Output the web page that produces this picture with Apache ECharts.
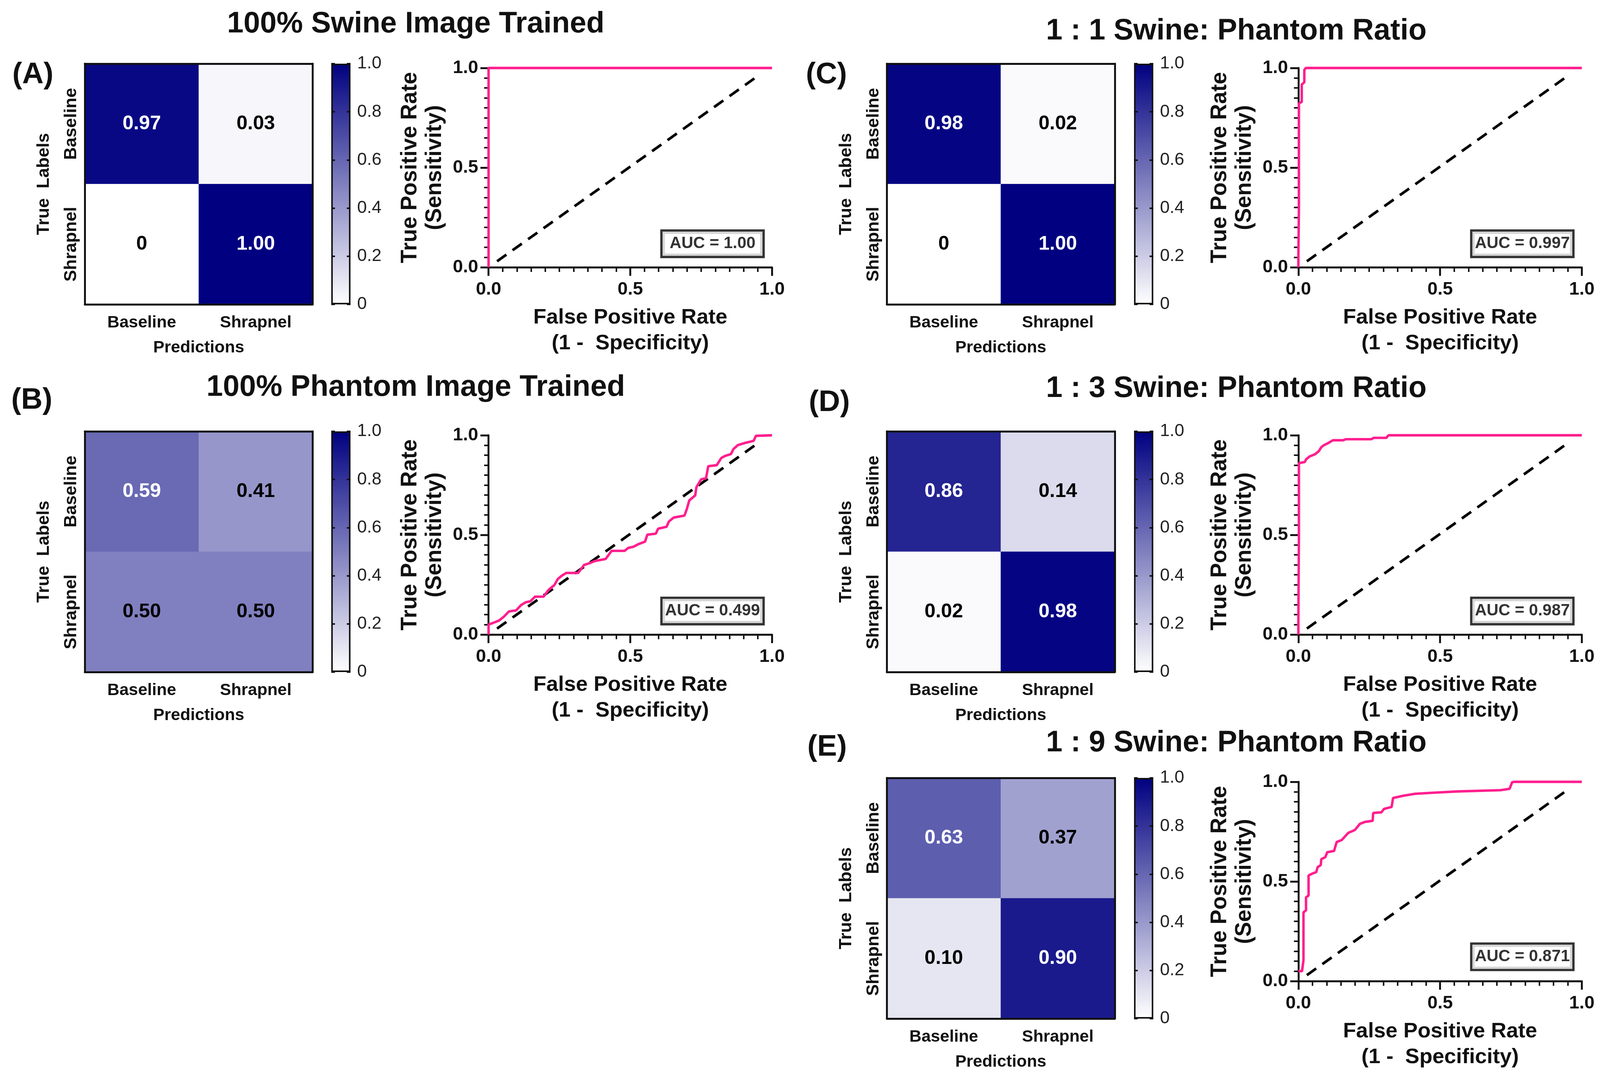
<!DOCTYPE html>
<html><head><meta charset="utf-8">
<script src="https://cdn.jsdelivr.net/npm/echarts@6/dist/echarts.min.js"></script>
<style>html,body{margin:0;padding:0;background:#fff;overflow:hidden}#c{width:100vw;height:100vh}</style>
</head><body><div id="c"></div>
<script>
// ---------------- DATA ----------------
const classes = ['Baseline', 'Shrapnel'];
// confusion matrices: rows = true label, cols = prediction
const cmA = [[0.97, 0.03], [0, 1.00]];
const cmB = [[0.59, 0.41], [0.50, 0.50]];
const cmC = [[0.98, 0.02], [0, 1.00]];
const cmD = [[0.86, 0.14], [0.02, 0.98]];
const cmE = [[0.63, 0.37], [0.10, 0.90]];

// ROC curves [FPR, TPR]
const rocA = [[0, 0], [0, 1], [1, 1]];
const rocB = [[0,0],[0,0.05],[0.021,0.061],[0.038,0.071],[0.055,0.091],[0.072,0.116],[0.097,0.121],[0.114,0.147],[0.131,0.162],[0.148,0.167],[0.164,0.19],[0.194,0.19],[0.211,0.223],[0.232,0.248],[0.244,0.278],[0.257,0.294],[0.274,0.309],[0.316,0.309],[0.329,0.334],[0.337,0.349],[0.358,0.359],[0.375,0.369],[0.413,0.379],[0.434,0.42],[0.48,0.42],[0.493,0.435],[0.51,0.44],[0.531,0.455],[0.552,0.466],[0.56,0.501],[0.59,0.506],[0.598,0.531],[0.628,0.541],[0.636,0.567],[0.653,0.587],[0.691,0.597],[0.699,0.628],[0.708,0.673],[0.729,0.698],[0.733,0.739],[0.75,0.779],[0.767,0.784],[0.775,0.845],[0.805,0.85],[0.821,0.886],[0.834,0.896],[0.855,0.906],[0.864,0.931],[0.88,0.951],[0.906,0.962],[0.935,0.972],[0.943,0.997],[1,1]];
const rocC = [[0,0],[0,0.05],[0.002,0.3],[0.002,0.822],[0.012,0.83],[0.012,0.917],[0.021,0.928],[0.021,0.99],[0.026,1],[1,1]];
const rocD = [[0,0],[0,0.06],[0.002,0.5],[0.002,0.86],[0.023,0.866],[0.027,0.879],[0.04,0.894],[0.059,0.905],[0.072,0.92],[0.081,0.94],[0.09,0.95],[0.104,0.96],[0.122,0.975],[0.158,0.975],[0.167,0.98],[0.257,0.98],[0.266,0.987],[0.311,0.987],[0.316,0.998],[0.32,1],[1,1]];
const rocE = [[0,0.05],[0.013,0.05],[0.018,0.104],[0.018,0.345],[0.027,0.355],[0.027,0.42],[0.036,0.43],[0.036,0.53],[0.05,0.54],[0.063,0.547],[0.068,0.572],[0.079,0.582],[0.081,0.612],[0.095,0.622],[0.102,0.647],[0.126,0.653],[0.135,0.698],[0.153,0.708],[0.176,0.744],[0.199,0.758],[0.217,0.789],[0.235,0.799],[0.262,0.804],[0.264,0.844],[0.293,0.847],[0.302,0.864],[0.329,0.874],[0.334,0.919],[0.37,0.93],[0.411,0.94],[0.469,0.945],[0.564,0.952],[0.713,0.958],[0.745,0.965],[0.754,0.998],[0.76,1],[1,1]];
const chanceLine = [[0.03, 0.03], [0.95, 0.96]];

const aucTexts = ['AUC = 1.00', 'AUC = 0.499', 'AUC = 0.997', 'AUC = 0.987', 'AUC = 0.871'];
const aucPos = [[0.79, 0.118], [0.79, 0.118], [0.79, 0.118], [0.79, 0.118], [0.79, 0.122]];
const rocTicks = ['0.0', '0.5', '1.0'];
const cbTicks = ['0', '0.2', '0.4', '0.6', '0.8', '1.0'];
const panelTitles = ['100% Swine Image Trained', '100% Phantom Image Trained', '1 : 1 Swine: Phantom Ratio', '1 : 3 Swine: Phantom Ratio', '1 : 9 Swine: Phantom Ratio'];
const panelLetters = ['(A)', '(B)', '(C)', '(D)', '(E)'];
const xName = 'Predictions';
const yName = 'True  Labels';
const rocXName = 'False Positive Rate\n(1 -  Specificity)';
const rocYName = 'True Positive Rate\n(Sensitivity)';

// ---------------- LAYOUT (design units = 4323 x 2759) ----------------
const el = document.getElementById('c');
const W = el.clientWidth || window.innerWidth, H = el.clientHeight || window.innerHeight;
const kx = W / 4323, ky = H / 2759, k = Math.sqrt(kx * ky);
const SX = v => v * kx, SY = v => v * ky, S = v => v * k;
const FONT = 'Liberation Sans';
const BLACK = '#111111';
const PINK = '#ff1f8e';
const layout = [
  {hx: 229,  hy: 163,  cbx: 895,  rx: 1320, ry: 174,  tx: 1118, ty: 57,   lx: 28,   ly: 187},
  {hx: 229,  hy: 1104, cbx: 895,  rx: 1320, ry: 1114, tx: 1118, ty: 987,  lx: 25,   ly: 1020},
  {hx: 2396, hy: 163,  cbx: 3064, rx: 3508, ry: 174,  tx: 3335, ty: 75,   lx: 2172, ly: 187},
  {hx: 2396, hy: 1104, cbx: 3064, rx: 3508, ry: 1114, tx: 3335, ty: 990,  lx: 2180, ly: 1026},
  {hx: 2396, hy: 1991, cbx: 3064, rx: 3508, ry: 2001, tx: 3335, ty: 1897, lx: 2176, ly: 1908}
];
const cms = [cmA, cmB, cmC, cmD, cmE];
const rocs = [rocA, rocB, rocC, rocD, rocE];

const grids = [], xAxis = [], yAxis = [], series = [], titles = [], hmIdx = [];
const txt = (size, extra) => Object.assign({color: BLACK, fontSize: S(size), fontWeight: 'bold', fontFamily: FONT}, extra || {});

layout.forEach((L, i) => {
  const g = grids.length;
  grids.push({left: SX(L.hx), top: SY(L.hy), width: SX(616), height: SY(616), outerBoundsMode: 'none', containLabel: false});
  grids.push({left: SX(L.cbx), top: SY(L.hy), width: SX(52), height: SY(616), outerBoundsMode: 'none', containLabel: false});
  grids.push({left: SX(L.rx), top: SY(L.ry), width: SX(766), height: SY(510), outerBoundsMode: 'none', containLabel: false});

  // heatmap axes
  const xh = xAxis.length;
  xAxis.push({type: 'category', gridIndex: g, data: classes, position: 'bottom', z: 5,
    axisLine: {lineStyle: {color: BLACK, width: S(5)}},
    axisTick: {alignWithLabel: true, length: SY(16), lineStyle: {color: BLACK, width: S(4)}},
    axisLabel: txt(44, {margin: SY(26)}),
    splitLine: {show: false},
    name: xName, nameLocation: 'middle', nameGap: SY(90), nameTextStyle: txt(44)});
  xAxis.push({type: 'category', gridIndex: g, data: classes, position: 'top', z: 5,
    axisLine: {lineStyle: {color: BLACK, width: S(5)}}, axisTick: {show: false}, axisLabel: {show: false}, splitLine: {show: false}});
  const xcb = xAxis.length;
  xAxis.push({type: 'category', gridIndex: g + 1, data: [''], show: false});
  const xr = xAxis.length;
  xAxis.push({type: 'value', gridIndex: g + 2, min: 0, max: 1, interval: 0.5,
    axisLine: {show: true, lineStyle: {color: BLACK, width: S(5)}},
    axisTick: {show: true, length: SY(22), lineStyle: {color: BLACK, width: S(5)}},
    minorTick: {show: true, splitNumber: 10, length: SY(12), lineStyle: {color: BLACK, width: S(4)}},
    axisLabel: txt(48, {margin: SY(34), formatter: v => rocTicks[Math.round(v / 0.5)]}),
    splitLine: {show: false}, minorSplitLine: {show: false},
    name: rocXName, nameLocation: 'middle', nameGap: SY(96),
    nameTextStyle: txt(56, {lineHeight: SY(66)})});

  const yh = yAxis.length;
  yAxis.push({type: 'category', gridIndex: g, data: classes, inverse: true, position: 'left', z: 5,
    axisLine: {lineStyle: {color: BLACK, width: S(5)}},
    axisTick: {alignWithLabel: true, length: SX(16), lineStyle: {color: BLACK, width: S(4)}},
    axisLabel: txt(46, {rotate: 90, margin: SX(12)}),
    splitLine: {show: false},
    name: yName, nameLocation: 'middle', nameRotate: 90, nameGap: SX(86), nameTextStyle: txt(46)});
  yAxis.push({type: 'category', gridIndex: g, data: classes, inverse: true, position: 'right', z: 5,
    axisLine: {lineStyle: {color: BLACK, width: S(5)}}, axisTick: {show: false}, axisLabel: {show: false}, splitLine: {show: false}});
  const ycb = yAxis.length;
  yAxis.push({type: 'value', gridIndex: g + 1, min: 0, max: 1, interval: 0.2, position: 'left', z: 5,
    axisLine: {show: false}, axisTick: {show: true, inside: true, length: SX(10), lineStyle: {color: BLACK, width: S(4)}},
    axisLabel: {show: false}, splitLine: {show: false}});
  yAxis.push({type: 'value', gridIndex: g + 1, min: 0, max: 1, interval: 0.2, position: 'right', z: 5,
    axisLine: {show: false}, axisTick: {show: true, inside: true, length: SX(10), lineStyle: {color: BLACK, width: S(4)}},
    axisLabel: {margin: SX(18), color: '#222', fontSize: S(46), fontFamily: FONT,
      formatter: v => cbTicks[Math.round(v / 0.2)]},
    splitLine: {show: false}});
  const yr = yAxis.length;
  yAxis.push({type: 'value', gridIndex: g + 2, min: 0, max: 1, interval: 0.5,
    axisLine: {show: true, lineStyle: {color: BLACK, width: S(5)}},
    axisTick: {show: true, length: SX(22), lineStyle: {color: BLACK, width: S(5)}},
    minorTick: {show: true, splitNumber: 10, length: SX(12), lineStyle: {color: BLACK, width: S(4)}},
    axisLabel: txt(48, {margin: SX(28), formatter: v => rocTicks[Math.round(v / 0.5)]}),
    splitLine: {show: false}, minorSplitLine: {show: false},
    name: rocYName, nameLocation: 'middle', nameRotate: 90, nameGap: SX(112),
    nameTextStyle: txt(58, {lineHeight: SX(66)})});

  // heatmap series
  const cm = cms[i];
  const hdata = [];
  cm.forEach((row, r) => row.forEach((v, c) => {
    hdata.push({value: [c, r, v], label: {color: v > 0.55 ? '#ffffff' : '#000000'}});
  }));
  hmIdx.push(series.length);
  series.push({type: 'heatmap', xAxisIndex: xh, yAxisIndex: yh, data: hdata,
    itemStyle: {borderWidth: 0},
    label: {show: true, fontSize: S(52), fontWeight: 'bold', fontFamily: FONT,
      formatter: p => (p.value[2] === 0 ? '0' : p.value[2].toFixed(2))},
    emphasis: {disabled: true}});
  // colour bar
  series.push({type: 'bar', xAxisIndex: xcb, yAxisIndex: ycb, data: [1], barWidth: '100%', silent: true,
    itemStyle: {borderColor: BLACK, borderWidth: S(4),
      color: new echarts.graphic.LinearGradient(0, 0, 0, 1, [{offset: 0, color: '#000080'}, {offset: 1, color: '#ffffff'}])}});
  // chance line
  series.push({type: 'line', xAxisIndex: xr, yAxisIndex: yr, data: chanceLine, showSymbol: false, symbol: 'none',
    clip: false, silent: true, z: 3, lineStyle: {color: '#000', width: S(7), type: [S(30), S(20)]}});
  // ROC
  series.push({type: 'line', xAxisIndex: xr, yAxisIndex: yr, data: rocs[i], showSymbol: false, symbol: 'none',
    clip: false, silent: true, z: 4, lineStyle: {color: PINK, width: S(6.5)}});
  // AUC box
  series.push({type: 'scatter', xAxisIndex: xr, yAxisIndex: yr, data: [aucPos[i]], symbolSize: 1, silent: true, z: 10,
    itemStyle: {color: 'rgba(0,0,0,0)'},
    label: {show: true, position: 'inside', formatter: aucTexts[i], fontSize: S(43), fontWeight: 'bold', fontFamily: FONT,
      color: '#000', backgroundColor: '#fff', borderColor: '#000', borderWidth: S(6), padding: [SY(10), SX(12)], width: SX(246), align: 'center'}});

  titles.push({text: panelTitles[i], left: SX(L.tx), top: SY(L.ty) - S(40), textAlign: 'center',
    textStyle: txt(78, {lineHeight: S(80)})});
  titles.push({text: panelLetters[i], left: SX(L.lx), top: SY(L.ly) - S(40), textAlign: 'left',
    textStyle: txt(78, {lineHeight: S(80)})});
});

const chart = echarts.init(el, null, {renderer: 'canvas'});
chart.setOption({
  animation: false,
  backgroundColor: '#ffffff',
  textStyle: {fontFamily: FONT},
  title: titles,
  grid: grids,
  xAxis: xAxis,
  yAxis: yAxis,
  visualMap: [{type: 'continuous', show: false, min: 0, max: 1, dimension: 2, seriesIndex: hmIdx,
    inRange: {color: ['#ffffff', '#000080']}}],
  series: series
});
</script>
</body></html>
